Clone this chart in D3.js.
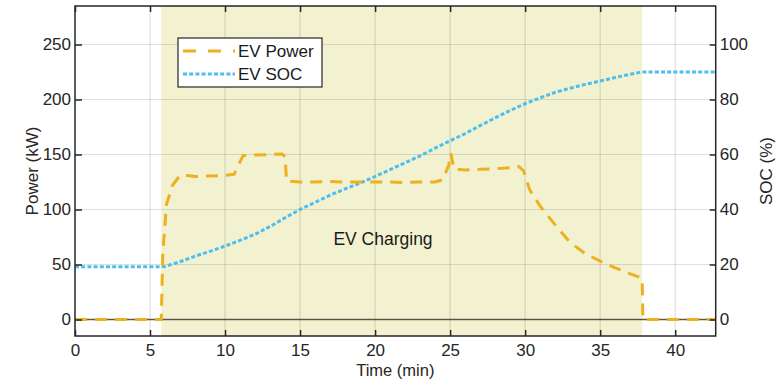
<!DOCTYPE html>
<html>
<head>
<meta charset="utf-8">
<script src="https://cdn.jsdelivr.net/npm/d3@7"></script>
<style>
  html, body { margin: 0; padding: 0; background: #fff; }
  svg { display: block; font-family: 'Liberation Sans', Arial, sans-serif; }
</style>
</head>
<body>
<svg id="chart" width="781" height="385"></svg>
<script>
// EV power (kW) over time (min)
const powerTime = [0, 5.75, 5.85, 6.1, 6.5, 7, 7.5, 8, 9, 10, 10.6, 11.2, 12, 13, 13.8, 14, 14.1, 15, 16, 17, 18, 19, 20, 21, 22, 23, 24, 24.5, 24.9, 25.05, 25.25, 26, 27, 28, 29, 29.6, 29.9, 30.3, 31, 32, 33, 34, 35, 36, 37, 37.6, 37.8, 37.85, 42.7]
const powerKW   = [0, 0, 60, 105, 122, 131, 131, 130, 130.5, 131, 132, 149, 149.5, 150, 150.5, 148, 126, 125, 125, 125.5, 125, 125, 125, 125, 124.5, 125, 125, 127, 140, 151, 137, 136, 136.5, 137, 138, 139, 135, 118, 103, 86, 70, 60, 53, 47, 41.5, 38.5, 37, 0, 0]

// EV state of charge (%) over time (min)
const socTime = [0, 5.8, 6, 7, 8, 9, 10, 11, 12, 13, 14, 15, 16, 17, 18, 19, 20, 21, 22, 23, 24, 25, 26, 27, 28, 29, 30, 31, 32, 33, 34, 35, 36, 37, 37.8, 42.7]
const socPct  = [19.2, 19.2, 19.3, 21, 23, 24.8, 26.7, 28.8, 31, 33.8, 37, 40, 42.6, 45.2, 47.5, 49.6, 52, 54.5, 57, 59.5, 62.3, 65, 67.6, 70.5, 73.3, 76, 78.5, 80.6, 82.6, 84.1, 85.5, 86.7, 88, 89.2, 90, 90]

const chargeWindow = [5.75, 37.8]
const xTicks = [0, 5, 10, 15, 20, 25, 30, 35, 40]
const powerTicks = [0, 50, 100, 150, 200, 250]
const socTicks = [0, 20, 40, 60, 80, 100]

const svg = d3.select('#chart')
const plotL = 75, plotR = 715.7, plotT = 6, plotB = 336

const x = d3.scaleLinear().domain([0, 42.7]).range([plotL, plotR])
const yP = d3.scaleLinear().domain([-15, 285]).range([plotB, plotT])
const yS = d3.scaleLinear().domain([-6, 114]).range([plotB, plotT])

const ink = '#262626'
const orange = '#EDB120'
const blue = '#4DBEEE'
const fs = 17

// charging window shading
svg.append('rect')
  .attr('x', x(chargeWindow[0]))
  .attr('y', plotT)
  .attr('width', x(chargeWindow[1]) - x(chargeWindow[0]))
  .attr('height', plotB - plotT)
  .attr('fill', '#f2f2d1')

// grid
const grid = svg.append('g').attr('stroke', 'rgba(38,38,38,0.15)').attr('stroke-width', 1.2)
grid.selectAll('line.gx').data(xTicks.slice(1)).join('line')
  .attr('x1', d => x(d)).attr('x2', d => x(d))
  .attr('y1', plotT).attr('y2', plotB)
grid.selectAll('line.gy').data(powerTicks).join('line')
  .attr('x1', plotL).attr('x2', plotR)
  .attr('y1', d => yP(d)).attr('y2', d => yP(d))

// zero line
svg.append('line')
  .attr('x1', plotL).attr('x2', plotR)
  .attr('y1', yP(0)).attr('y2', yP(0))
  .attr('stroke', 'rgba(30,30,20,0.7)')
  .attr('stroke-width', 1.5)

svg.append('text')
  .attr('x', 383).attr('y', 245)
  .attr('text-anchor', 'middle')
  .attr('font-size', 17.5)
  .attr('fill', '#1a1a1a')
  .text('EV Charging')

// series
const powerLine = d3.line().x((d, i) => x(powerTime[i])).y(d => yP(d))
const socLine = d3.line().x((d, i) => x(socTime[i])).y(d => yS(d))

svg.append('path')
  .datum(socPct)
  .attr('d', socLine)
  .attr('fill', 'none')
  .attr('stroke', blue)
  .attr('stroke-width', 3)
  .attr('stroke-dasharray', '4,2.2')

svg.append('path')
  .datum(powerKW)
  .attr('d', powerLine)
  .attr('fill', 'none')
  .attr('stroke', orange)
  .attr('stroke-width', 3)
  .attr('stroke-dasharray', '12,8')

// axes box
svg.append('rect')
  .attr('x', plotL).attr('y', plotT)
  .attr('width', plotR - plotL).attr('height', plotB - plotT)
  .attr('fill', 'none')
  .attr('stroke', ink)
  .attr('stroke-width', 1.5)

const xAxis = d3.axisBottom(x).tickValues(xTicks).tickSizeInner(-6).tickSizeOuter(0).tickPadding(8)
const xTop = d3.axisTop(x).tickValues(xTicks).tickSizeInner(-6).tickSizeOuter(0).tickFormat('')
const yLeft = d3.axisLeft(yP).tickValues(powerTicks).tickSizeInner(-7).tickSizeOuter(0).tickPadding(4)
const yRight = d3.axisRight(yS).tickValues(socTicks).tickSizeInner(-6).tickSizeOuter(0).tickPadding(4)

function styleAxis(g) {
  g.select('.domain').remove()
  g.selectAll('line').attr('stroke', ink).attr('stroke-width', 1.5)
  g.selectAll('text').attr('fill', ink).attr('font-size', fs).attr('font-family', "'Liberation Sans', Arial, sans-serif")
}

svg.append('g').attr('transform', `translate(0,${plotB})`).call(xAxis).call(styleAxis)
svg.append('g').attr('transform', `translate(0,${plotT})`).call(xTop).call(styleAxis)
svg.append('g').attr('transform', `translate(${plotL},0)`).call(yLeft).call(styleAxis)
svg.append('g').attr('transform', `translate(${plotR},0)`).call(yRight).call(styleAxis)

// axis titles
svg.append('text')
  .attr('x', (plotL + plotR) / 2).attr('y', 376)
  .attr('text-anchor', 'middle').attr('font-size', 16.5).attr('fill', ink)
  .text('Time (min)')
svg.append('text')
  .attr('transform', `translate(38,${(plotT + plotB) / 2}) rotate(-90)`)
  .attr('text-anchor', 'middle').attr('font-size', fs).attr('fill', ink)
  .text('Power (kW)')
svg.append('text')
  .attr('transform', `translate(772,${(plotT + plotB) / 2}) rotate(-90)`)
  .attr('text-anchor', 'middle').attr('font-size', fs).attr('fill', ink)
  .text('SOC (%)')

// legend
const legend = svg.append('g').attr('transform', 'translate(178,38)')
legend.append('rect')
  .attr('width', 144).attr('height', 49)
  .attr('fill', '#fff').attr('stroke', ink).attr('stroke-width', 1.2)
const legendItems = [
  { label: 'EV Power', color: orange, dash: '13,12' },
  { label: 'EV SOC', color: blue, dash: '4,2.2' }
]
const rows = legend.selectAll('g.item').data(legendItems).join('g')
  .attr('transform', (d, i) => `translate(0,${13 + i * 23})`)
rows.append('line')
  .attr('x1', 5).attr('x2', 57).attr('y1', 0).attr('y2', 0)
  .attr('stroke', d => d.color).attr('stroke-width', 3)
  .attr('stroke-dasharray', d => d.dash)
rows.append('text')
  .attr('x', 60).attr('y', 6)
  .attr('font-size', 17).attr('fill', '#1a1a1a')
  .text(d => d.label)
</script>
</body>
</html>
